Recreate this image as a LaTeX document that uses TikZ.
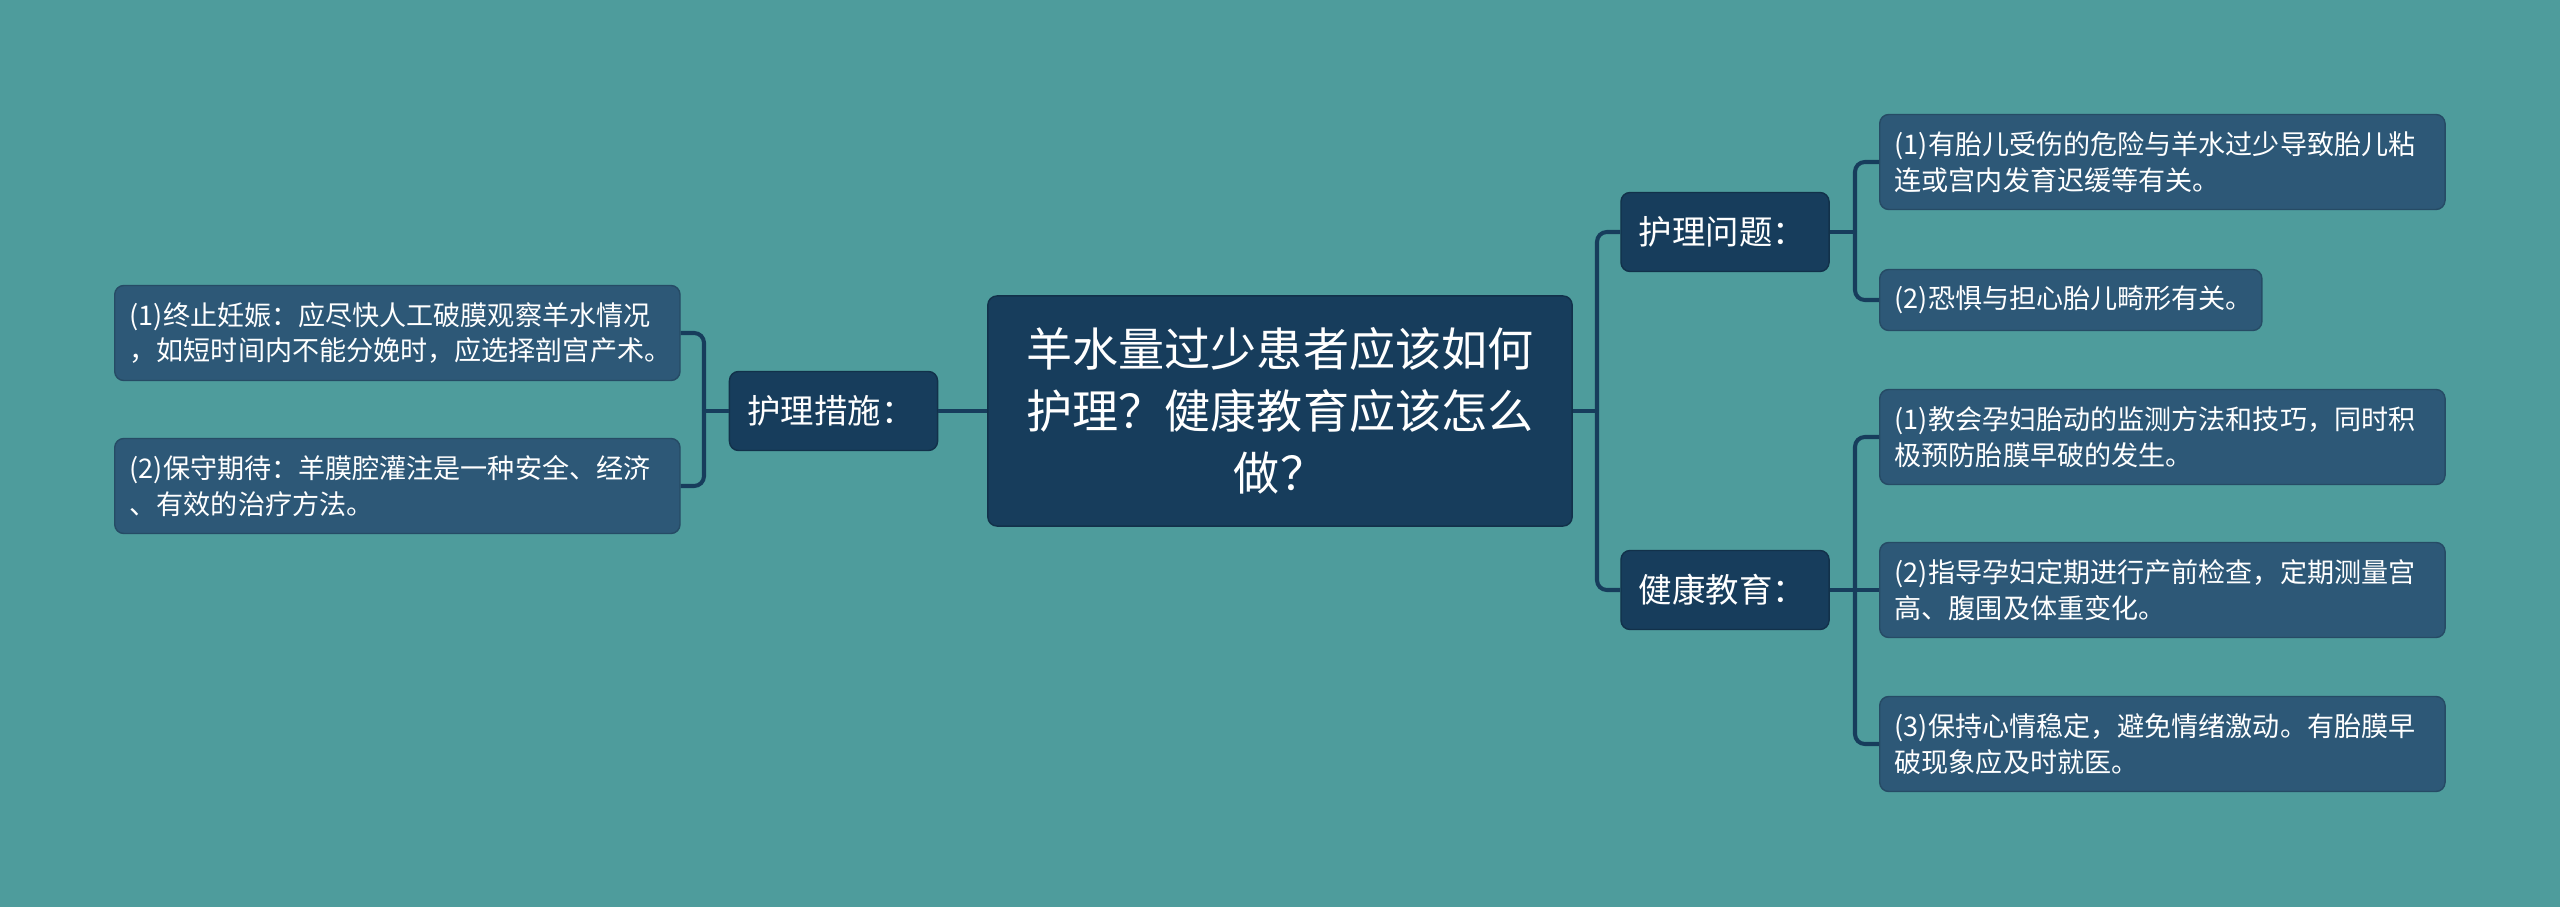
\documentclass[tikz,border=0pt]{standalone}
\usepackage{fontspec}
\setmainfont{Noto Sans CJK SC}
\usetikzlibrary{positioning}
\definecolor{bgteal}{HTML}{4E9C9C}
\definecolor{rootblue}{HTML}{173D5C}
\definecolor{leafblue}{HTML}{2D5877}
\tikzset{root/.style={shape=rectangle, rounded corners=2.6pt, fill=rootblue, draw=rootblue!80!black,
    text=white, align=center, inner sep=0pt, minimum width=5.84cm, minimum height=2.3cm,
    font=\fontsize{13.1pt}{17.6pt}\selectfont}}
\tikzset{topic/.style={shape=rectangle, rounded corners=2.6pt, fill=rootblue, draw=rootblue!80!black,
    text=white, align=left, text width=1.72cm, inner xsep=0.18cm, inner ysep=0pt, minimum height=0.79cm,
    font=\fontsize{9.5pt}{11pt}\selectfont}}
\tikzset{leaf/.style={shape=rectangle, rounded corners=2.6pt, fill=leafblue, draw=leafblue!85!black,
    text=white, align=left, anchor=west, inner xsep=0.15cm, inner ysep=0pt, minimum height=0.95cm,
    font=\fontsize{7.7pt}{10.2pt}\selectfont}}

\begin{document}
\begin{tikzpicture}[x=0.01cm, y=-0.01cm]
    \tikzstyle{link}=[draw=rootblue, line width=1.15pt, rounded corners=2.8pt]
    \fill[bgteal] (0,0) rectangle (2560,907);
    \useasboundingbox (0,0) rectangle (2560,907);
    % centre
    \node[root] (c0) at (1280,411) {羊水量过少患者应该如何\\护理？健康教育应该怎么\\做？};
    % left branch
    \node[topic] (m1) at (833.5,411) {护理措施：};
    \node[leaf, text width=5.35cm] (l1) at (114,333) {(1)终止妊娠：应尽快人工破膜观察羊水情况\\，如短时间内不能分娩时，应选择剖宫产术。};
    \node[leaf, text width=5.35cm] (l2) at (114,486) {(2)保守期待：羊膜腔灌注是一种安全、经济\\、有效的治疗方法。};
    % right branch
    \node[topic] (p1) at (1725,232) {护理问题：};
    \node[topic] (p2) at (1725,590) {健康教育：};
    \node[leaf, text width=5.35cm] (p11) at (1879,162) {(1)有胎儿受伤的危险与羊水过少导致胎儿粘\\连或宫内发育迟缓等有关。};
    \node[leaf, text width=3.52cm, minimum height=0.61cm] (p12) at (1879,300) {(2)恐惧与担心胎儿畸形有关。};
    \node[leaf, text width=5.35cm] (p21) at (1879,437) {(1)教会孕妇胎动的监测方法和技巧，同时积\\极预防胎膜早破的发生。};
    \node[leaf, text width=5.35cm] (p22) at (1879,590) {(2)指导孕妇定期进行产前检查，定期测量宫\\高、腹围及体重变化。};
    \node[leaf, text width=5.35cm] (p23) at (1879,744) {(3)保持心情稳定，避免情绪激动。有胎膜早\\破现象应及时就医。};

    \coordinate (jc) at (1597,411);
    \coordinate (jm) at (704,411);
    \coordinate (jp1) at (1855,232);
    \coordinate (jp2) at (1855,590);

    \draw[link] (c0.east) -- (jc);
    \draw[link] (jc) |- (p1.west);
    \draw[link] (jc) |- (p2.west);
    \draw[link] (c0.west) -- (m1.east);
    \draw[link] (m1.west) -- (jm);
    \draw[link] (jm) |- (l1.east);
    \draw[link] (jm) |- (l2.east);
    \draw[link] (p1.east) -- (jp1);
    \draw[link] (jp1) |- (p11.west);
    \draw[link] (jp1) |- (p12.west);
    \draw[link] (p2.east) -- (jp2);
    \draw[link] (jp2) |- (p21.west);
    \draw[link] (jp2) -- (p22.west);
    \draw[link] (jp2) |- (p23.west);
\end{tikzpicture}
\end{document}
